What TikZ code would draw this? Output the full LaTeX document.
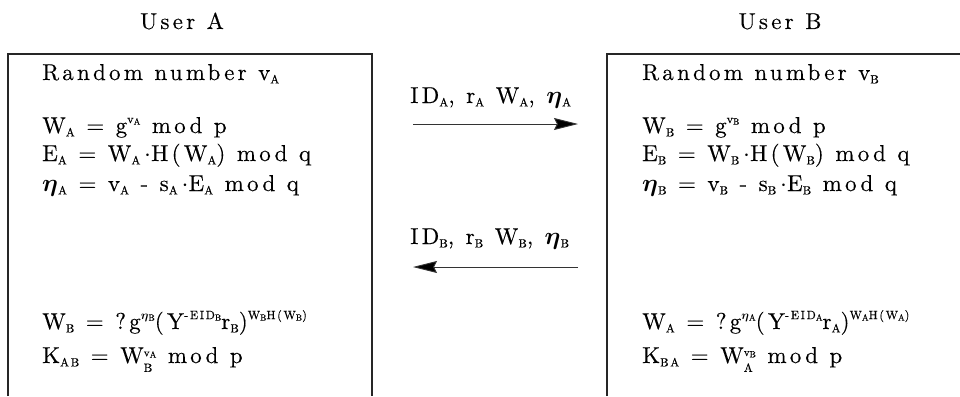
\documentclass[tikz,border=0pt]{standalone}
\usepackage{fontspec}
\usepackage{amsmath}
\usetikzlibrary{arrows.meta}
\newfontfamily\wideserif{lmroman10-regular}[Extension=.otf,LetterSpace=14,FakeBold=0.3]
\newcommand\lo[1]{\raisebox{-0.35ex}{\fontsize{12}{12}\selectfont #1}}
\newcommand\hi[1]{\raisebox{1.0ex}{\fontsize{12}{12}\selectfont #1}}
\newcommand\llo[1]{\raisebox{-0.3ex}{\fontsize{9}{9}\selectfont #1}}
\newcommand\gap{\hspace{0.5em}}
\newcommand\eeta{$\boldsymbol{\eta}$}
\newcommand\seta{$\boldsymbol{\eta}$}
\newcommand\wstack[2]{W\raisebox{-0.9ex}{\shortstack[l]{\fontsize{11}{11}\selectfont v\llo{#1}\\[3pt]\fontsize{12}{12}\selectfont #2}}}
\tikzset{
  txt/.style={anchor=base west, inner sep=0pt, font=\wideserif\fontsize{23}{25}\selectfont},
  frame/.style={draw=black!85, line width=1.3pt},
  msg/.style={draw=black!80, line width=0.9pt, -{Stealth[length=24pt,width=12pt,inset=3pt,fill=black]}}
}
\begin{document}
\begin{tikzpicture}[x=1pt,y=-1pt]
\useasboundingbox (0,0) rectangle (960,396);
% headers
\node[txt, anchor=base] (ua) at (182,29) {User\gap A};
\node[txt, anchor=base] (ub) at (780,29) {User\gap B};
% frames
\draw[frame] (8,396) -- (8,54) -- (372,54) -- (372,396);
\draw[frame] (607,396) -- (607,54) -- (960,54);
% left box text
\node[txt] (a1) at (42,80) {Random\gap number\gap v\lo{A}};
\node[txt] (a2) at (42,133) {W\lo{A}\gap=\gap g\hi{v\llo{A}}\gap mod\gap p};
\node[txt] (a3) at (42,161) {E\lo{A}\gap=\gap W\lo{A}\,$\cdot$H(W\lo{A})\gap mod\gap q};
\node[txt] (a4) at (42,191) {\eeta\lo{A}\gap=\gap v\lo{A}\gap -\gap s\lo{A}\,$\cdot$E\lo{A}\gap mod\gap q};
\node[txt] (a5) at (42,329) {W\lo{B}\gap=\gap ?g\hi{\seta\llo{B}}(Y\hi{-EID\llo{B}}r\lo{B})\hi{W\llo{B}H(W\llo{B})}};
\node[txt] (a6) at (42,363) {K\lo{AB}\gap=\gap \wstack{A}{B}\gap mod\gap p};
% right box text
\node[txt] (b1) at (642,80) {Random\gap number\gap v\lo{B}};
\node[txt] (b2) at (642,133) {W\lo{B}\gap=\gap g\hi{v\llo{B}}\gap mod\gap p};
\node[txt] (b3) at (642,161) {E\lo{B}\gap=\gap W\lo{B}\,$\cdot$H(W\lo{B})\gap mod\gap q};
\node[txt] (b4) at (642,191) {\eeta\lo{B}\gap=\gap v\lo{B}\gap -\gap s\lo{B}\,$\cdot$E\lo{B}\gap mod\gap q};
\node[txt] (b5) at (642,329) {W\lo{A}\gap=\gap ?g\hi{\seta\llo{A}}(Y\hi{-EID\llo{A}}r\lo{A})\hi{W\llo{A}H(W\llo{A})}};
\node[txt] (b6) at (642,363) {K\lo{BA}\gap=\gap \wstack{B}{A}\gap mod\gap p};
% messages
\node[txt] (m1) at (410,103) {ID\lo{A},\gap r\lo{A}\gap W\lo{A},\gap \eeta\lo{A}};
\node[txt] (m2) at (410,244) {ID\lo{B},\gap r\lo{B}\gap W\lo{B},\gap \eeta\lo{B}};
\coordinate (p1s) at (413,124);
\coordinate (p1e) at (578,124);
\coordinate (p2s) at (578,267);
\coordinate (p2e) at (413,267);
\draw[msg] (p1s) -- (p1e);
\draw[msg] (p2s) -- (p2e);
\end{tikzpicture}
\end{document}
